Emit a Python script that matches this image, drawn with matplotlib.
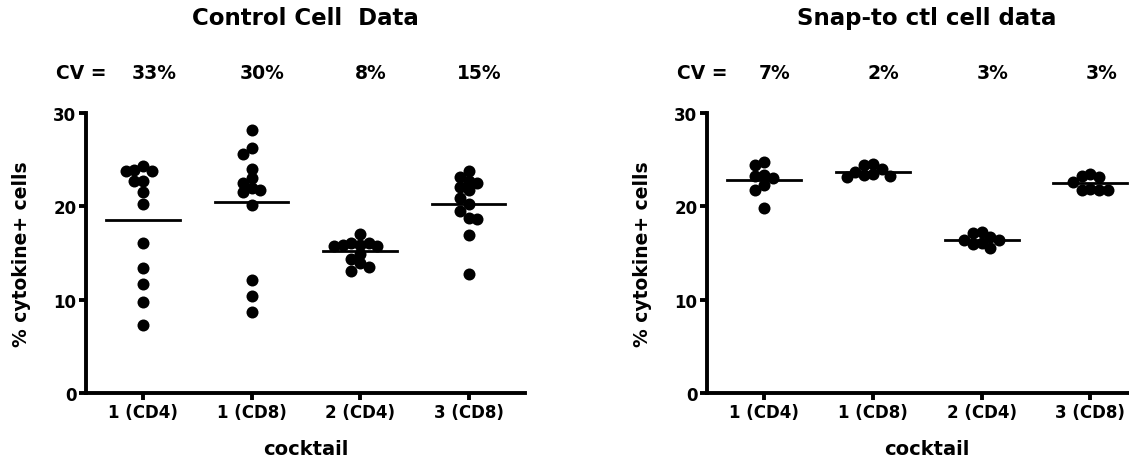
import numpy as np
import matplotlib.pyplot as plt

plt.rcParams['font.family'] = ['DejaVu Sans']
plt.rcParams['font.weight'] = 'bold'

cocktails = ["1 (CD4)", "1 (CD8)", "2 (CD4)", "3 (CD8)"]

# control cell data (% cytokine+ cells)
ctl_cd4_1 = [24.3, 23.9, 23.8, 23.8, 22.7, 22.7, 21.5, 20.3, 16.1, 13.4, 11.7, 9.7, 7.3]
ctl_cd8_1 = [28.2, 26.3, 25.6, 24.0, 23.0, 22.5, 22.0, 21.8, 21.5, 20.1, 12.1, 10.4, 8.7]
ctl_cd4_2 = [17.0, 16.1, 16.1, 15.9, 15.9, 15.7, 15.7, 14.9, 14.4, 13.9, 13.5, 13.1]
ctl_cd8_3 = [23.8, 23.1, 22.7, 22.5, 22.1, 21.7, 20.9, 20.2, 19.5, 18.8, 18.6, 16.9, 12.7]
ctl_cv = ["33%", "30%", "8%", "15%"]

# snap-to ctl cell data
snap_cd4_1 = [24.7, 24.4, 23.4, 23.3, 23.0, 22.3, 21.8, 19.8]
snap_cd8_1 = [24.5, 24.4, 24.0, 23.7, 23.5, 23.4, 23.2, 23.1]
snap_cd4_2 = [17.3, 17.1, 16.7, 16.4, 16.4, 16.1, 16.0, 15.5]
snap_cd8_3 = [23.5, 23.3, 23.1, 22.6, 21.9, 21.8, 21.7, 21.7]
snap_cv = ["7%", "2%", "3%", "3%"]

DOT = 12.0     # marker diameter, px
XPX = 108.5    # px per category
YPX = 9.35     # px per y unit


def swarm(vals, step=8.7):
    # simple beeswarm: nearest free column slot for each dot
    placed = []
    offs = []
    for v in vals:
        for k in [0, -1, 1, -2, 2, -3, 3, -4, 4]:
            x = k * step
            ok = all((x - px) ** 2 + ((v - pv) * YPX) ** 2 >= (0.72 * DOT) ** 2
                     for px, pv in placed)
            if ok:
                break
        placed.append((x, v))
        offs.append(x / XPX)
    return np.array(offs)


def panel(ax, groups, cvs, title):
    for i, vals in enumerate(groups):
        xs = i + swarm(vals)
        ax.scatter(xs, vals, s=(DOT / 1.389) ** 2, color='black', zorder=3,
                   linewidths=0, clip_on=False)
        m = np.mean(vals)
        ax.plot([i - 0.34, i + 0.34], [m, m], color='black', lw=2.0, zorder=2)

    ax.set_xlim(-0.525, 3.52)
    ax.set_ylim(0, 30)
    ax.set_xticks(range(len(cocktails)))
    ax.set_xticklabels(cocktails, fontsize=12, fontweight='bold')
    ax.set_yticks([0, 10, 20, 30])
    ax.set_yticklabels(["0", "10", "20", "30"], fontsize=12, fontweight='bold')
    for s in ['top', 'right']:
        ax.spines[s].set_visible(False)
    for s in ['left', 'bottom']:
        ax.spines[s].set_linewidth(2.8)
    ax.tick_params(width=2.8, length=5, pad=2)
    ax.set_ylabel("% cytokine+ cells", fontsize=13.5, fontweight='bold')
    ax.yaxis.set_label_coords(-0.125, 0.5)
    ax.set_xlabel("cocktail", fontsize=14, fontweight='bold')
    ax.xaxis.set_label_coords(0.5, -0.165)

    tr = ax.get_xaxis_transform()
    ax.text(-0.57, 1.146, "CV =", transform=tr, ha='center', va='center',
            fontsize=13.5, fontweight='bold')
    for i, c in enumerate(cvs):
        ax.text(i + 0.1, 1.146, c, transform=tr, ha='center', va='center',
                fontsize=13.5, fontweight='bold')
    ax.text(0.5, 1.34, title, transform=ax.transAxes, ha='center', va='center',
            fontsize=16.5, fontweight='bold')


fig = plt.figure(figsize=(11.29, 4.6), dpi=100)
ax1 = fig.add_axes([86 / 1129, 66 / 460, 439 / 1129, 280 / 460])
ax2 = fig.add_axes([707 / 1129, 66 / 460, 440 / 1129, 280 / 460])

panel(ax1, [ctl_cd4_1, ctl_cd8_1, ctl_cd4_2, ctl_cd8_3], ctl_cv, "Control Cell  Data")
panel(ax2, [snap_cd4_1, snap_cd8_1, snap_cd4_2, snap_cd8_3], snap_cv, "Snap-to ctl cell data")

fig.savefig("out.png", dpi=100)
